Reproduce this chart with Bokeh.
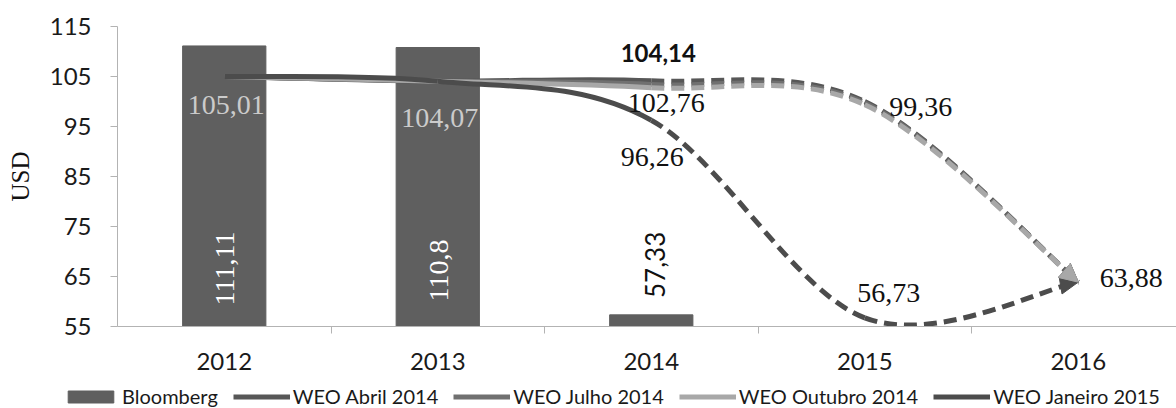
import math
from bokeh.plotting import figure
from bokeh.layouts import column
from bokeh.models import (ColumnDataSource, FixedTicker, Legend, LegendItem,
                          Arrow, NormalHead, Range1d)
from bokeh.core.properties import value
from bokeh.embed import file_html
from bokeh.resources import INLINE

# ---------------- data ----------------
years = ["2012", "2013", "2014", "2015", "2016"]
bloomberg = [111.11, 110.80, 57.33]
weo_abril_2014 = [105.01, 104.07, 104.14, 100.00, 63.88]
weo_julho_2014 = [105.01, 104.07, 103.40, 99.70, 63.88]
weo_outubro_2014 = [105.01, 104.07, 102.76, 99.36, 63.88]
weo_janeiro_2015 = [105.01, 104.07, 96.26, 56.73, 63.88]
y_ticks = [55, 65, 75, 85, 95, 105, 115]

xs = list(range(len(years)))
Y0, Y1 = 55, 115
BAR_COLOR = "#5f5f5f"


def fmt(v):
    return ("%g" % v).replace(".", ",")


def smooth_segments(x, y):
    """Excel-like smoothed line: one cubic Bezier per pair of data points."""
    n = len(x)
    out = []
    for i in range(n - 1):
        im, i2 = max(i - 1, 0), min(i + 2, n - 1)
        cx0 = x[i] + (x[i + 1] - x[im]) / 6.0
        cy0 = y[i] + (y[i + 1] - y[im]) / 6.0
        cx1 = x[i + 1] - (x[i2] - x[i]) / 6.0
        cy1 = y[i + 1] - (y[i2] - y[i]) / 6.0
        out.append((x[i], y[i], x[i + 1], y[i + 1], cx0, cy0, cx1, cy1))
    return out


def seg_source(segs):
    keys = ["x0", "y0", "x1", "y1", "cx0", "cy0", "cx1", "cy1"]
    return ColumnDataSource({k: [s[j] for s in segs] for j, k in enumerate(keys)})


p = figure(width=1176, height=378,
           x_range=Range1d(-0.5, 4.46), y_range=Range1d(Y0, Y1),
           output_backend="svg", toolbar_location=None,
           min_border_left=117, min_border_top=26,
           min_border_bottom=52, min_border_right=0)
p.frame_align = False
p.xgrid.visible = False
p.ygrid.visible = False
p.outline_line_color = None
p.background_fill_color = "white"
p.border_fill_color = "white"

# bars
p.vbar(x=xs[:len(bloomberg)], top=bloomberg, bottom=Y0, width=0.39,
       fill_color=BAR_COLOR, line_color=BAR_COLOR)

series = [
    ("WEO Abril 2014", weo_abril_2014, "#575757"),
    ("WEO Julho 2014", weo_julho_2014, "#707070"),
    ("WEO Outubro 2014", weo_outubro_2014, "#a8a8a8"),
    ("WEO Janeiro 2015", weo_janeiro_2015, "#4c4c4c"),
]

last_ctrl = {}
for name, ys, col in series:
    segs = smooth_segments(xs, ys)
    p.bezier(source=seg_source(segs[:2]), x0="x0", y0="y0", x1="x1", y1="y1",
             cx0="cx0", cy0="cy0", cx1="cx1", cy1="cy1",
             line_color=col, line_width=5)
    p.bezier(source=seg_source(segs[2:]), x0="x0", y0="y0", x1="x1", y1="y1",
             cx0="cx0", cy0="cy0", cx1="cx1", cy1="cy1",
             line_color=col, line_width=5, line_dash="13 7")
    last_ctrl[name] = (segs[-1][6], segs[-1][7], xs[-1], ys[-1], col)

# arrow heads at the 2016 end points
for name in ["WEO Janeiro 2015", "WEO Abril 2014", "WEO Julho 2014", "WEO Outubro 2014"]:
    cx, cy, ex, ey, col = last_ctrl[name]
    p.add_layout(Arrow(x_start=cx, y_start=cy, x_end=ex, y_end=ey,
                       line_alpha=0, line_width=1,
                       end=NormalHead(size=18, fill_color=col, line_color=col,
                                      line_width=1)))

# ---------------- labels ----------------
serif = value("Liberation Serif")

light = ColumnDataSource(dict(
    x=[xs[0], xs[1]], y=[weo_abril_2014[0], weo_abril_2014[1]],
    t=[fmt(weo_abril_2014[0]), fmt(weo_abril_2014[1])],
    xo=[2, 2], yo=[29, 37]))
p.text(x="x", y="y", text="t", x_offset="xo", y_offset="yo", source=light,
       text_font=serif, text_font_size=value("28px"), text_color="#cbcbcb",
       text_align="center", text_baseline="middle")

blk = ColumnDataSource(dict(
    x=[xs[2], xs[2], xs[3], xs[3], xs[4]],
    y=[weo_outubro_2014[2], weo_janeiro_2015[2], weo_outubro_2014[3],
       weo_janeiro_2015[3], weo_janeiro_2015[4]],
    t=[fmt(weo_outubro_2014[2]), fmt(weo_janeiro_2015[2]), fmt(weo_outubro_2014[3]),
       fmt(weo_janeiro_2015[3]), fmt(weo_janeiro_2015[4])],
    xo=[15, 1, 56, 24, 53], yo=[15, 37, 2, -25, -4]))
p.text(x="x", y="y", text="t", x_offset="xo", y_offset="yo", source=blk,
       text_font=serif, text_font_size=value("28px"), text_color="#111111",
       text_align="center", text_baseline="middle")

bold = ColumnDataSource(dict(x=[xs[2]], y=[weo_abril_2014[2]],
                             t=[fmt(weo_abril_2014[2])], xo=[7], yo=[-28]))
p.text(x="x", y="y", text="t", x_offset="xo", y_offset="yo", source=bold,
       text_font=value("Lato"), text_font_style="bold", text_font_size=value("24px"),
       text_color="#111111", text_align="center", text_baseline="middle")

inside = ColumnDataSource(dict(x=xs[:2], y=[Y0, Y0], t=[fmt(v) for v in bloomberg[:2]],
                               xo=[1, 1], yo=[-58, -56]))
p.text(x="x", y="y", text="t", x_offset="xo", y_offset="yo", source=inside,
       angle=math.pi / 2, text_font=serif, text_font_size=value("28px"),
       text_color="white", text_align="center", text_baseline="middle")

above = ColumnDataSource(dict(x=[xs[2]], y=[bloomberg[2]], t=[fmt(bloomberg[2])],
                              xo=[4], yo=[-50]))
p.text(x="x", y="y", text="t", x_offset="xo", y_offset="yo", source=above,
       angle=math.pi / 2, text_font=value("Lato"), text_font_size=value("26px"),
       text_color="#111111", text_align="center", text_baseline="middle")

# ---------------- axes ----------------
axis_gray = "#b3b3b3"
yax = p.yaxis[0]
yax.ticker = FixedTicker(ticks=y_ticks)
yax.axis_line_color = axis_gray
yax.major_tick_line_color = axis_gray
yax.major_tick_out = 7
yax.major_tick_in = 0
yax.minor_tick_line_color = None
yax.major_label_text_font = "Lato"
yax.major_label_text_font_size = "24px"
yax.major_label_text_color = "#1a1a1a"
yax.major_label_standoff = 19
yax.axis_label = "USD"
yax.axis_label_text_font = "Liberation Serif"
yax.axis_label_text_font_size = "25px"
yax.axis_label_text_font_style = "normal"
yax.axis_label_text_color = "#111111"
yax.axis_label_standoff = 13

xax = p.xaxis[0]
xax.ticker = FixedTicker(ticks=xs, minor_ticks=[i + 0.5 for i in xs[:-1]])
xax.major_label_overrides = {i: y for i, y in zip(xs, years)}
xax.axis_line_color = axis_gray
xax.major_tick_out = 0
xax.major_tick_in = 0
xax.major_tick_line_color = None
xax.minor_tick_line_color = axis_gray
xax.minor_tick_out = 7
xax.minor_tick_in = 0
xax.major_label_text_font = "Lato"
xax.major_label_text_font_size = "24px"
xax.major_label_text_color = "#1a1a1a"
xax.major_label_standoff = 19

# ---------------- legend (separate strip below the chart) ----------------
# The legend strip shows the same series; its ranges keep the sample marks
# out of view so only the legend swatches are visible.
leg = figure(width=1176, height=30, x_range=Range1d(-1, -0.5), y_range=Range1d(0, 1),
             output_backend="svg", toolbar_location=None,
             x_axis_type=None, y_axis_type=None,
             min_border_left=0, min_border_right=0, min_border_top=0,
             min_border_bottom=0)
leg.frame_align = False
leg.outline_line_color = None
leg.background_fill_color = "white"
leg.border_fill_color = "white"

items = [LegendItem(label="Bloomberg",
                    renderers=[leg.vbar(x=xs[:len(bloomberg)], top=bloomberg, bottom=Y0,
                                        width=0.39, fill_color=BAR_COLOR,
                                        line_color=BAR_COLOR)])]
for name, ys, col in series:
    items.append(LegendItem(label=name,
                            renderers=[leg.line(x=xs, y=ys, line_color=col, line_width=5)]))
legend = Legend(items=items, orientation="horizontal", location=(62, 0),
                padding=0, margin=0, spacing=15, label_standoff=3,
                glyph_width=57, glyph_height=15, label_height=22,
                label_text_font="Lato", label_text_font_size="20px",
                label_text_color="#1a1a1a",
                border_line_color=None, background_fill_alpha=0)
leg.add_layout(legend)

layout = column(p, leg, spacing=0)
open("out.html", "w").write(file_html(layout, INLINE))
